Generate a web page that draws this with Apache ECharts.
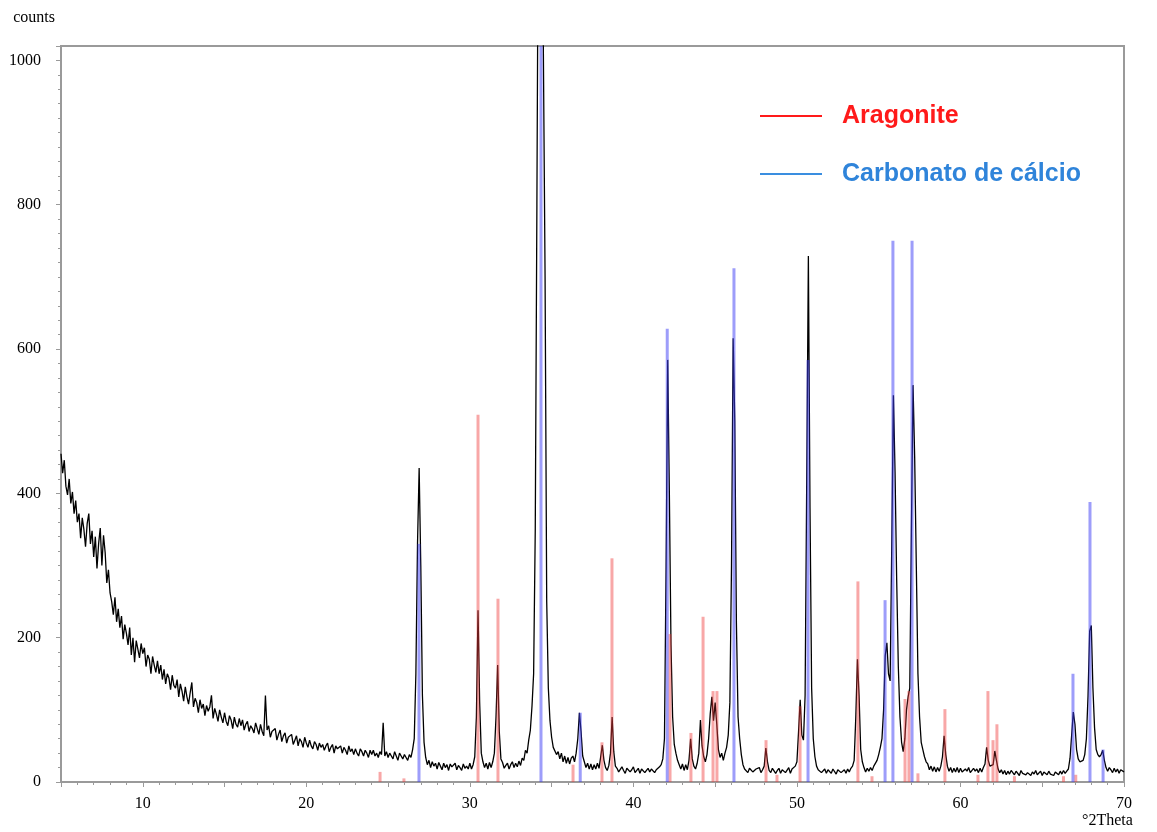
<!DOCTYPE html>
<html>
<head>
<meta charset="utf-8">
<script src="https://cdn.jsdelivr.net/npm/echarts@6/dist/echarts.min.js"></script>
<style>
html,body{margin:0;padding:0;background:#fff;}
#chart{width:1157px;height:832px;}
</style>
</head>
<body>
<div id="chart"></div>
<script>
// ---- data ----
// diffractogram: counts sampled every 0.1 °2Theta, starting at 5.0
const scanStart = 5.0;
const scanStep = 0.1;
const counts = [
  455,428,446,410,398,420,386,402,372,390,   // 5
  360,372,338,366,350,326,358,372,330,348,   // 6
  312,340,296,330,352,300,342,318,276,294,   // 7
  262,250,232,256,222,240,214,230,198,218,   // 8
  206,190,214,176,200,166,196,184,172,192,   // 9
  178,186,160,176,170,150,174,162,152,168,   // 10
  150,162,142,156,136,150,144,128,148,134,   // 11
  130,142,118,136,126,112,132,118,108,124,   // 12
  138,104,116,110,96,114,102,108,92,106,     // 13
  98,104,120,88,102,94,84,100,90,82,         // 14
  96,84,78,92,86,74,90,80,76,88,             // 15
  78,86,72,80,84,70,78,74,68,82,             // 16
  74,66,80,70,64,120,72,78,62,70,            // 17
  68,74,58,66,72,56,64,68,54,62,             // 18
  60,66,52,58,64,50,60,56,48,62,             // 19
  54,48,58,50,46,56,52,44,54,48,             // 20
  52,44,50,54,42,48,52,40,50,46,             // 21
  44,50,40,48,44,38,50,42,46,38,             // 22
  46,40,36,46,42,36,44,40,34,44,             // 23
  38,44,36,40,34,42,38,82,36,42,             // 24
  34,40,36,32,42,36,30,40,36,32,             // 25
  38,34,30,38,34,45,60,150,330,435,          // 26
  300,120,55,34,24,30,20,28,22,26,           // 27
  18,27,22,17,26,20,24,16,25,21,             // 28
  19,26,17,23,20,16,25,19,22,18,             // 29
  26,18,24,35,90,238,110,40,28,20,           // 30
  26,18,27,20,28,40,90,162,70,32,            // 31
  27,19,23,26,18,24,28,20,26,21,             // 32
  29,23,33,30,44,40,58,72,105,150,           // 33
  350,800,1300,1300,1300,1300,700,250,130,85,// 34
  62,48,50,38,42,32,40,28,36,26,             // 35
  34,25,33,36,28,40,60,96,70,36,             // 36
  28,20,26,18,25,17,24,18,26,19,             // 37
  35,51,30,20,16,23,40,90,42,22,             // 38
  19,14,13,21,16,12,19,20,14,17,             // 39
  21,13,15,19,12,18,20,13,16,19,             // 40
  14,18,20,13,17,15,21,24,32,60,             // 41
  300,585,400,190,90,52,40,30,24,18,         // 42
  25,16,24,17,30,60,32,22,18,26,             // 43
  40,86,50,35,28,38,60,95,118,85,            // 44
  110,80,45,34,40,30,40,48,65,110,           // 45
  300,615,500,220,90,60,38,24,18,20,         // 46
  13,19,20,14,12,18,16,20,13,17,             // 47
  22,47,28,16,13,19,18,12,16,19,             // 48
  12,17,19,13,15,20,12,18,16,22,             // 49
  28,70,114,65,58,120,420,729,380,130,       // 50
  60,35,22,17,19,13,15,18,12,17,             // 51
  15,12,18,16,11,17,18,13,14,17,             // 52
  12,18,14,19,22,30,90,170,120,45,           // 53
  28,20,14,19,15,20,16,22,21,30,             // 54
  38,48,60,100,175,193,150,140,330,536,      // 55
  430,280,160,90,55,42,60,100,118,130,       // 56
  350,550,450,300,150,90,55,45,35,28,        // 57
  25,17,22,15,21,14,20,15,22,35,             // 58
  64,38,22,15,20,13,19,14,20,13,             // 59
  19,14,12,18,15,20,13,12,19,15,             // 60
  18,13,19,14,20,25,48,30,22,20,             // 61
  24,43,30,18,13,17,11,16,10,15,             // 62
  11,16,14,10,15,13,9,16,12,14,              // 63
  10,13,15,9,14,11,16,10,12,15,              // 64
  9,14,12,10,15,11,13,9,14,12,               // 65
  10,15,11,16,12,15,18,33,65,97,             // 66
  80,45,32,28,26,30,38,60,119,209,           // 67
  217,130,75,45,38,35,38,44,30,20,           // 68
  15,20,17,13,19,14,18,12,17,15,             // 69
  14                                         // 70
];

// reference pattern sticks: position (°2Theta) and intensity (counts)
const aragonitePositions = [24.51, 25.97, 30.50, 31.72, 36.31, 38.08, 38.69, 42.24, 43.52, 44.26, 44.87, 45.11, 48.11, 48.78, 50.19, 53.73, 54.59, 56.61, 56.85, 57.40, 59.05, 61.07, 61.68, 61.99, 62.23, 63.30, 66.30, 67.05];
const aragoniteIntensity = [14, 5, 509, 254, 24, 55, 310, 205, 68, 229, 126, 126, 58, 10, 105, 278, 8, 115, 126, 12, 101, 10, 126, 58, 80, 8, 8, 10];

const calcitePositions = [26.89, 34.35, 36.75, 42.07, 46.15, 50.68, 55.39, 55.87, 57.04, 66.88, 67.92, 68.72];
const calciteIntensity = [330, 1020, 96, 628, 712, 585, 252, 750, 750, 150, 388, 45];

const xLabelValues = [10, 20, 30, 40, 50, 60, 70];
const yLabelValues = [0, 200, 400, 600, 800, 1000];

// ---- build series data ----
const scanData = counts.map((c, i) => [Number((scanStart + i * scanStep).toFixed(2)), c]);
const aragoniteData = aragonitePositions.map((x, i) => [x, aragoniteIntensity[i]]);
const calciteData = calcitePositions.map((x, i) => [x, calciteIntensity[i]]);

const serif = '"Liberation Serif", "Times New Roman", serif';
const sans = '"Liberation Sans", Arial, sans-serif';
const axisGray = '#9a9a9a';

const chart = echarts.init(document.getElementById('chart'), null, {renderer: 'canvas'});
chart.setOption({
  animation: false,
  backgroundColor: '#ffffff',
  grid: {left: 61, right: 33, top: 46, bottom: 50, outerBoundsMode: 'none', containLabel: false, show: true, borderColor: axisGray, borderWidth: 2, backgroundColor: 'transparent'},
  legend: {
    orient: 'vertical',
    left: 755,
    top: 97,
    itemWidth: 62,
    itemHeight: 2,
    itemGap: 30,
    selectedMode: false,
    textStyle: {fontSize: 25, fontFamily: sans, fontWeight: 'bold', lineHeight: 28, padding: [0, 0, 0, 15]},
    data: [
      {name: 'Aragonite', icon: 'rect', itemStyle: {color: '#ff1a1a', opacity: 1}, textStyle: {color: '#ff1a1a', fontSize: 25, fontWeight: 'bold', fontFamily: sans}},
      {name: 'Carbonato de cálcio', icon: 'rect', itemStyle: {color: '#3a8ee0', opacity: 1}, textStyle: {color: '#2f84da', fontSize: 25, fontWeight: 'bold', fontFamily: sans}}
    ]
  },
  xAxis: {
    type: 'value',
    min: 5,
    max: 70,
    interval: 5,
    name: '°2Theta',
    nameLocation: 'end',
    nameGap: -42,
    nameMoveOverlap: false,
    nameTextStyle: {fontFamily: serif, fontSize: 16, color: '#000', align: 'left', verticalAlign: 'top', lineHeight: 78},
    axisLine: {onZero: false, lineStyle: {color: axisGray, width: 2}},
    axisTick: {show: true, length: 5, lineStyle: {color: axisGray, width: 1}},
    minorTick: {show: true, splitNumber: 5, length: 3, lineStyle: {color: axisGray, width: 1}},
    axisLabel: {customValues: xLabelValues, margin: 14, fontFamily: serif, fontSize: 16, color: '#000', formatter: v => String(v)},
    splitLine: {show: false},
    minorSplitLine: {show: false}
  },
  yAxis: {
    type: 'value',
    min: 0,
    max: 1020,
    interval: 200,
    name: 'counts',
    nameLocation: 'end',
    nameGap: 20,
    nameMoveOverlap: false,
    nameTextStyle: {fontFamily: serif, fontSize: 16, color: '#000', align: 'right', padding: [0, 6, 0, 0]},
    axisLine: {show: true, lineStyle: {color: axisGray, width: 2}},
    axisTick: {show: true, length: 5, lineStyle: {color: axisGray, width: 1}},
    minorTick: {show: true, splitNumber: 10, length: 3, lineStyle: {color: axisGray, width: 1}},
    axisLabel: {customValues: yLabelValues, margin: 20, fontFamily: serif, fontSize: 16, color: '#000', formatter: v => String(v)},
    splitLine: {show: false},
    minorSplitLine: {show: false}
  },
  series: [
    {
      name: 'scan',
      type: 'line',
      data: scanData,
      showSymbol: false,
      symbol: 'none',
      clip: true,
      lineStyle: {color: '#000000', width: 1.3},
      silent: true,
      z: 2
    },
    {
      name: 'Aragonite',
      type: 'bar',
      data: aragoniteData,
      barWidth: 3,
      barGap: '-100%',
      itemStyle: {color: 'rgba(240,60,60,0.45)'},
      silent: true,
      z: 3
    },
    {
      name: 'Carbonato de cálcio',
      type: 'bar',
      data: calciteData,
      barWidth: 3,
      barGap: '-100%',
      itemStyle: {color: 'rgba(60,60,245,0.5)'},
      silent: true,
      z: 3
    }
  ]
});
</script>
</body>
</html>
